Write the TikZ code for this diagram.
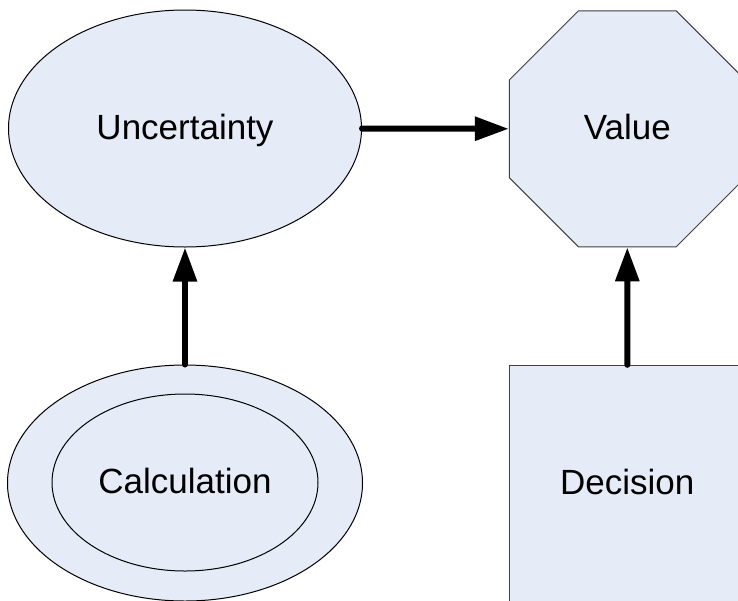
\documentclass[tikz,border=0pt]{standalone}
\usepackage{fontspec}
\setmainfont{Liberation Sans}
\usetikzlibrary{shapes.geometric,arrows.meta}
\definecolor{boxfill}{HTML}{E5ECF7}
\definecolor{edgegray}{HTML}{404040}
\tikzset{
  every node/.style={font=\fontsize{35}{42}\selectfont, inner sep=0pt, text height=25pt, text depth=3pt},
  chance/.style={ellipse, draw=black, line width=1pt, fill=boxfill},
  valuenode/.style={regular polygon, regular polygon sides=8, draw=edgegray, line width=1pt, fill=boxfill, minimum size=255.4pt},
  decisionnode/.style={rectangle, draw=edgegray, line width=1pt, fill=boxfill, minimum width=236pt, minimum height=236pt},
  link/.style={line width=6pt, line cap=round, -{Triangle[length=34pt,width=23pt]}}
}
\begin{document}
\begin{tikzpicture}[x=1pt,y=-1pt]
  \useasboundingbox (0,0) rectangle (738,600);
  % chance node
  \node[chance, minimum width=353pt, minimum height=237pt] (unc) at (185,128.5) {Uncertainty};
  % value node
  \node[valuenode] (val) at (627.3,128.8) {Value};
  % deterministic node: two nested ellipses
  \node[chance, minimum width=355pt, minimum height=236pt] (calc) at (185,483) {};
  \node[chance, minimum width=266pt, minimum height=177pt] (calcin) at (185,482.5) {Calculation};
  % decision node
  \node[decisionnode] (dec) at (627.3,483.3) {};
  \node (declabel) at (627.3,483) {Decision};
  % influences
  \draw[link] (unc.east) -- (val.west);
  \draw[link] (calc.north) -- (unc.south);
  \draw[link] (dec.north) -- (val.south);
\end{tikzpicture}
\end{document}
